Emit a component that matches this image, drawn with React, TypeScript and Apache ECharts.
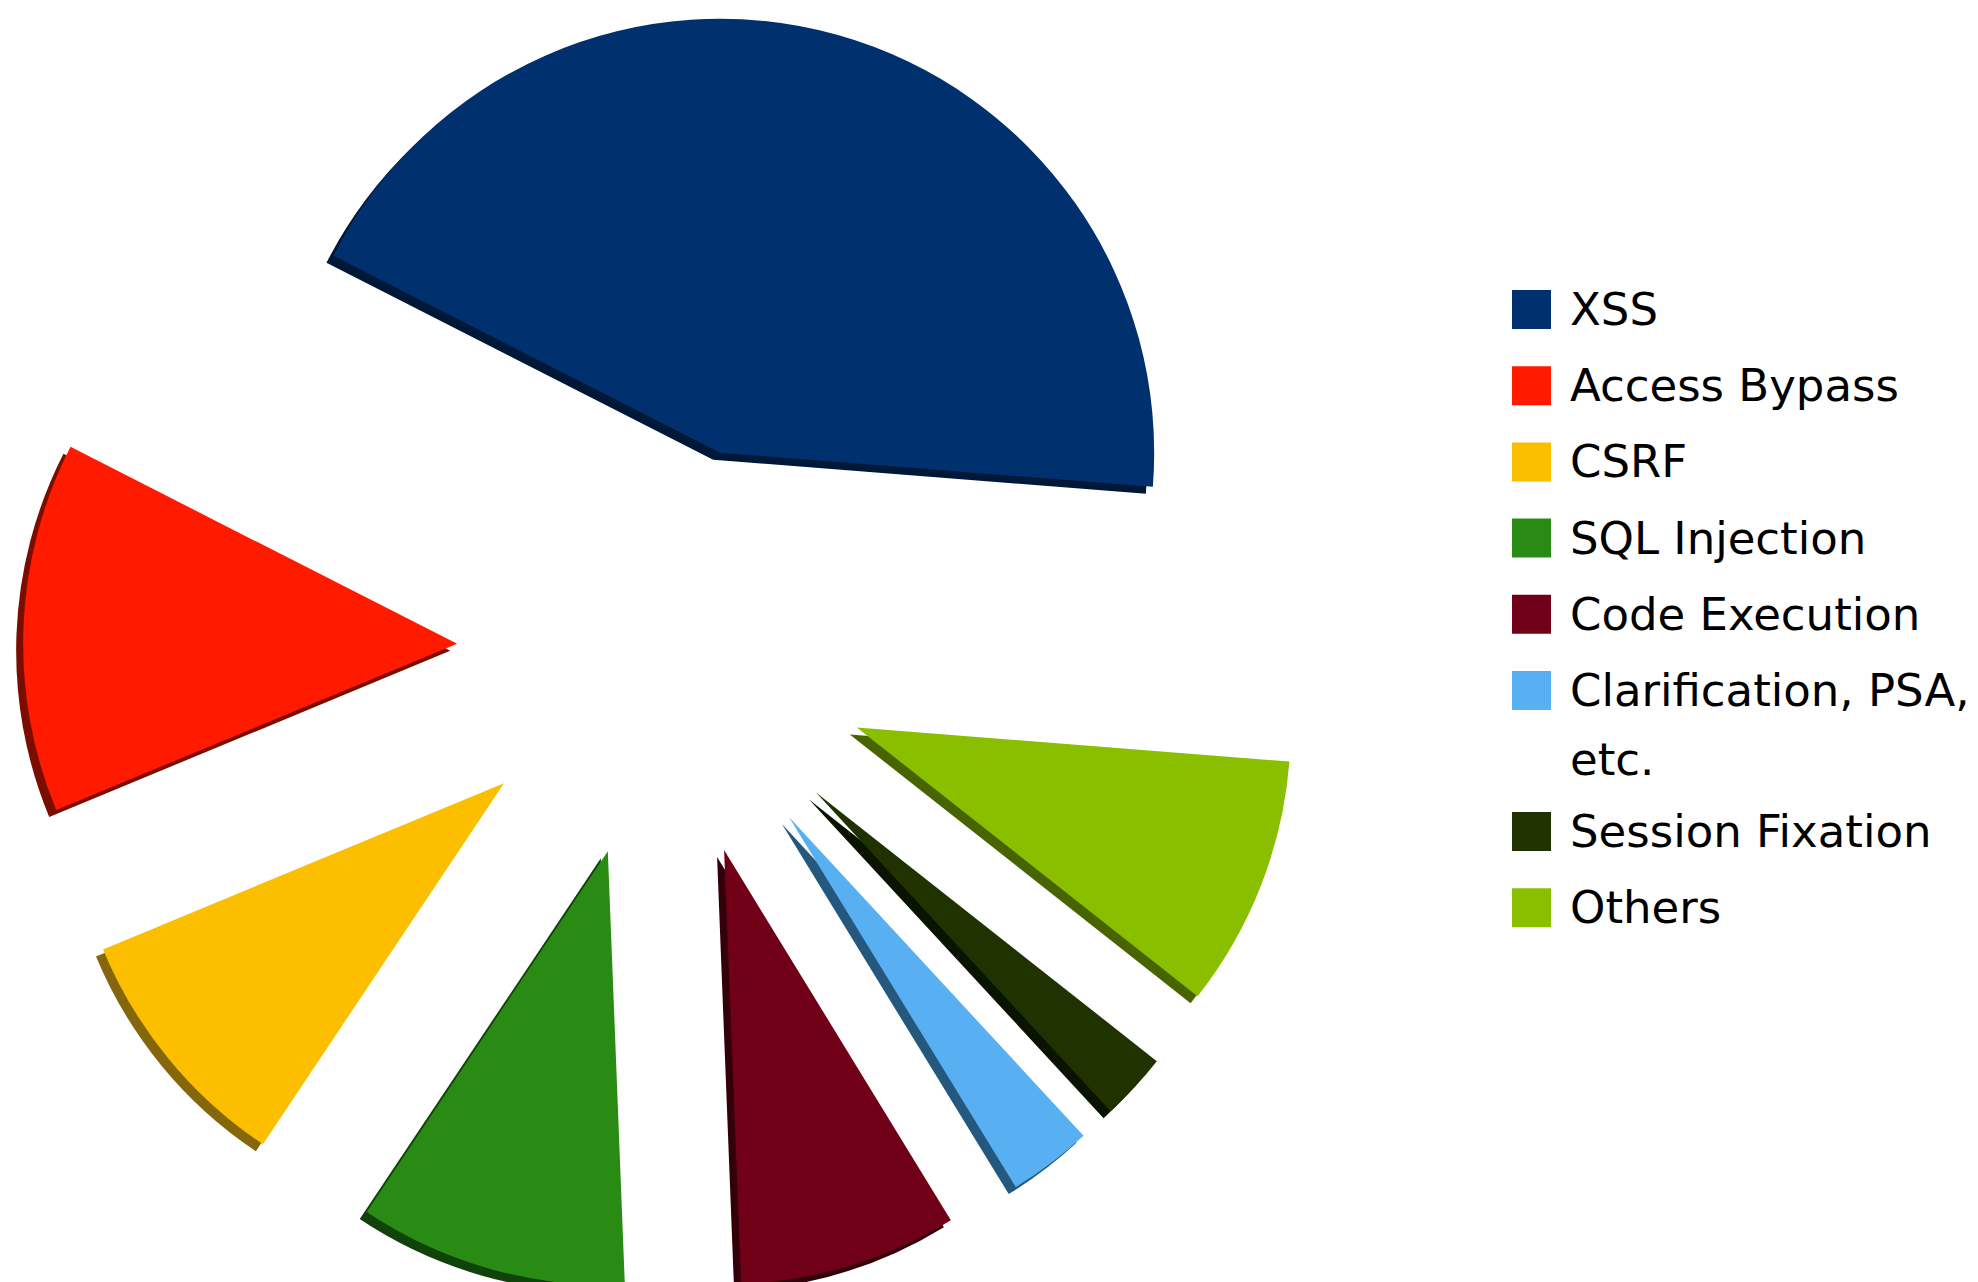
import React, { useEffect, useRef } from 'react';
import * as echarts from 'echarts';

const categories = [
  'XSS',
  'Access Bypass',
  'CSRF',
  'SQL Injection',
  'Code Execution',
  'Clarification, PSA, etc.',
  'Session Fixation',
  'Others',
];
const counts = [70, 22, 15, 16, 13, 5, 4, 15];
const colors = ['#00316e', '#ff1a00', '#fbbf00', '#2a8b14', '#6f0018', '#58b0f2', '#1f3200', '#8abf00'];
const rimColors = ['#001838', '#7a0c00', '#86660a', '#0f430a', '#33000a', '#25587e', '#0a1200', '#476400'];
const legendGroupA = categories.slice(0, 6);
const legendGroupB = categories.slice(6);
const clarLines = ['Clarification, PSA,', 'etc.'];

export default function App() {
  const ref = useRef<HTMLDivElement>(null);
  useEffect(() => {
    const chart = echarts.init(ref.current!, null, { renderer: 'svg' });
    const mk = (cols: string[]) =>
      categories.map((name, i) => ({ name, value: counts[i], selected: true, itemStyle: { color: cols[i] } }));
    const common: any = {
      type: 'pie',
      startAngle: 355.5,
      clockwise: false,
      selectedMode: 'multiple',
      selectedOffset: 207,
      label: { show: false },
      labelLine: { show: false },
      emphasis: { disabled: true },
      select: { itemStyle: {} },
      silent: true,
    };
    const textStyle = {
      fontFamily: 'DejaVu Sans',
      fontSize: 45,
      color: '#000',
      padding: [0, 0, 0, 14],
    };
    const legendCommon: any = {
      orient: 'vertical',
      left: 1512,
      padding: 0,
      itemWidth: 39,
      itemHeight: 39,
      itemGap: 31.2,
      icon: 'rect',
      selectedMode: false,
      textStyle,
      formatter: (n: string) => (n === categories[5] ? clarLines[0] : n),
    };
    chart.setOption({
      animation: false,
      backgroundColor: '#ffffff',
      legend: [
        { ...legendCommon, top: 287, data: legendGroupA },
        { ...legendCommon, top: 809, data: legendGroupB },
      ],
      graphic: [
        {
          type: 'text',
          x: 1570,
          y: 759,
          style: {
            text: clarLines[1],
            fontFamily: 'DejaVu Sans',
            fontSize: 45,
            fill: '#000',
            verticalAlign: 'middle',
          },
        },
      ],
      series: [
        { ...common, name: 'top', z: 3, center: [664, 652], radius: 434, data: mk(colors) },
        { ...common, name: 'rim', z: 2, center: [657, 659], radius: 434, data: mk(rimColors) },
      ],
    });
    return () => chart.dispose();
  }, []);
  return <div ref={ref} style={{ position: 'absolute', left: 0, top: 0, width: 1978, height: 1282 }} />;
}
